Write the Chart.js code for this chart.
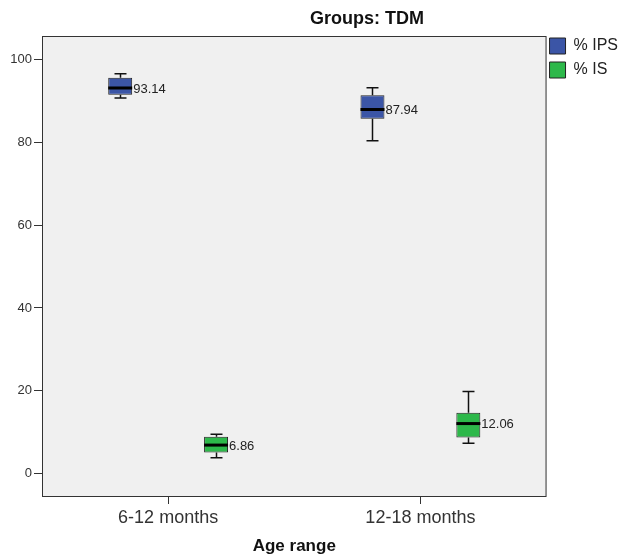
<!DOCTYPE html>
<html>
<head>
<meta charset="utf-8">
<script src="https://cdn.jsdelivr.net/npm/chart.js@4"></script>
<style>
  html, body { margin: 0; padding: 0; background: #fff; }
  #wrap { width: 618px; height: 558px; }
</style>
</head>
<body>
<div id="wrap"><canvas id="chart" width="618" height="558"></canvas></div>
<script>
const ageRanges = ['6-12 months', '12-18 months'];
const yTicks = [0, 20, 40, 60, 80, 100];

// % IPS boxes
const ipsMin = [90.7, 80.4];
const ipsQ1 = [91.5, 85.7];
const ipsMedian = [93.14, 87.94];
const ipsQ3 = [95.6, 91.4];
const ipsMax = [96.6, 93.2];

// % IS boxes
const isMin = [3.8, 7.3];
const isQ1 = [5.1, 8.7];
const isMedian = [6.86, 12.06];
const isQ3 = [8.9, 14.7];
const isMax = [9.5, 19.8];

const stats = [
  { min: ipsMin, q1: ipsQ1, med: ipsMedian, q3: ipsQ3, max: ipsMax },
  { min: isMin, q1: isQ1, med: isMedian, q3: isQ3, max: isMax }
];

const ink = '#222';
const font = '"Liberation Sans", Arial, sans-serif';

// plot background + frame + title
const frame = {
  id: 'frame',
  afterLayout(chart) {
    // nudge legend up/left like the SPSS output
    const lg = chart.legend;
    lg.left -= 5; lg.right -= 5;
    lg.top -= 6; lg.bottom -= 6;
  },
  beforeDraw(chart) {
    const { ctx, chartArea: a } = chart;
    ctx.save();
    ctx.fillStyle = '#f0f0f0';
    ctx.fillRect(a.left, a.top, a.right - a.left, a.bottom - a.top);
    ctx.restore();
  },
  afterDraw(chart) {
    const { ctx, chartArea: a } = chart;
    ctx.save();
    ctx.strokeStyle = '#333';
    ctx.lineWidth = 1;
    ctx.strokeRect(a.left + 0.5, a.top + 0.5, a.right - a.left - 1, a.bottom - a.top);
    ctx.fillStyle = '#111';
    ctx.font = 'bold 18px ' + font;
    ctx.textAlign = 'center';
    ctx.textBaseline = 'middle';
    ctx.fillText('Groups: TDM', 367, 19);
    ctx.restore();
  }
};

// whiskers, medians and median labels
const boxExtras = {
  id: 'boxExtras',
  beforeDatasetsDraw(chart) {
    const { ctx } = chart;
    const y = chart.scales.y;
    ctx.save();
    ctx.strokeStyle = '#111';
    ctx.lineWidth = 1.5;
    stats.forEach((s, d) => {
      chart.getDatasetMeta(d).data.forEach((bar, i) => {
        const x = Math.round(bar.x) + 0.5;
        const cap = bar.width / 4;
        const yMax = y.getPixelForValue(s.max[i]);
        const yMin = y.getPixelForValue(s.min[i]);
        ctx.beginPath();
        ctx.moveTo(x, y.getPixelForValue(s.q3[i]));
        ctx.lineTo(x, yMax);
        ctx.moveTo(x - cap, yMax);
        ctx.lineTo(x + cap, yMax);
        ctx.moveTo(x, y.getPixelForValue(s.q1[i]));
        ctx.lineTo(x, yMin);
        ctx.moveTo(x - cap, yMin);
        ctx.lineTo(x + cap, yMin);
        ctx.stroke();
      });
    });
    ctx.restore();
  },
  afterDatasetsDraw(chart) {
    const { ctx } = chart;
    const y = chart.scales.y;
    ctx.save();
    stats.forEach((s, d) => {
      chart.getDatasetMeta(d).data.forEach((bar, i) => {
        const ym = y.getPixelForValue(s.med[i]);
        ctx.strokeStyle = '#000';
        ctx.lineWidth = 3;
        ctx.beginPath();
        ctx.moveTo(bar.x - bar.width / 2, ym);
        ctx.lineTo(bar.x + bar.width / 2, ym);
        ctx.stroke();
        ctx.fillStyle = ink;
        ctx.font = '13px ' + font;
        ctx.textAlign = 'left';
        ctx.textBaseline = 'middle';
        ctx.fillText(s.med[i].toFixed(2), bar.x + bar.width / 2 + 1, ym + 1);
      });
    });
    ctx.restore();
  }
};

new Chart(document.getElementById('chart'), {
  type: 'bar',
  data: {
    labels: ageRanges,
    datasets: [
      {
        label: '% IPS',
        data: ageRanges.map((_, i) => [ipsQ1[i], ipsQ3[i]]),
        backgroundColor: '#3b55a6',
        borderColor: '#222',
        borderWidth: 1,
        borderSkipped: false
      },
      {
        label: '% IS',
        data: ageRanges.map((_, i) => [isQ1[i], isQ3[i]]),
        backgroundColor: '#2db84a',
        borderColor: '#222',
        borderWidth: 1,
        borderSkipped: false
      }
    ]
  },
  options: {
    responsive: false,
    animation: false,
    categoryPercentage: 0.76,
    barPercentage: 0.25,
    layout: { padding: { top: 36, left: 0, right: -15, bottom: 0 } },
    plugins: {
      tooltip: { enabled: false },
      title: { display: false },
      legend: {
        position: 'right',
        align: 'start',
        labels: {
          boxWidth: 16,
          boxHeight: 16,
          padding: 8,
          color: ink,
          font: { family: font, size: 16 }
        }
      }
    },
    scales: {
      x: {
        offset: true,
        border: { display: false },
        grid: { drawOnChartArea: false, drawTicks: true, tickLength: 8, color: '#333', offset: false },
        ticks: { color: '#333', padding: 3, font: { family: font, size: 18 } },
        title: {
          display: true,
          text: 'Age range',
          color: '#111',
          font: { family: font, size: 17, weight: 'bold' },
          padding: { top: 4, bottom: 1 }
        },
        afterFit(scale) { scale.height = 62; }
      },
      y: {
        min: -5.44,
        max: 105.7,
        border: { display: false },
        grid: { drawOnChartArea: false, drawTicks: true, tickLength: 8, color: '#333' },
        afterBuildTicks(scale) { scale.ticks = yTicks.map(v => ({ value: v })); },
        ticks: { color: '#333', padding: 2, font: { family: font, size: 13 } },
        afterFit(scale) { scale.width = 42; }
      }
    }
  },
  plugins: [frame, boxExtras]
});
</script>
</body>
</html>
